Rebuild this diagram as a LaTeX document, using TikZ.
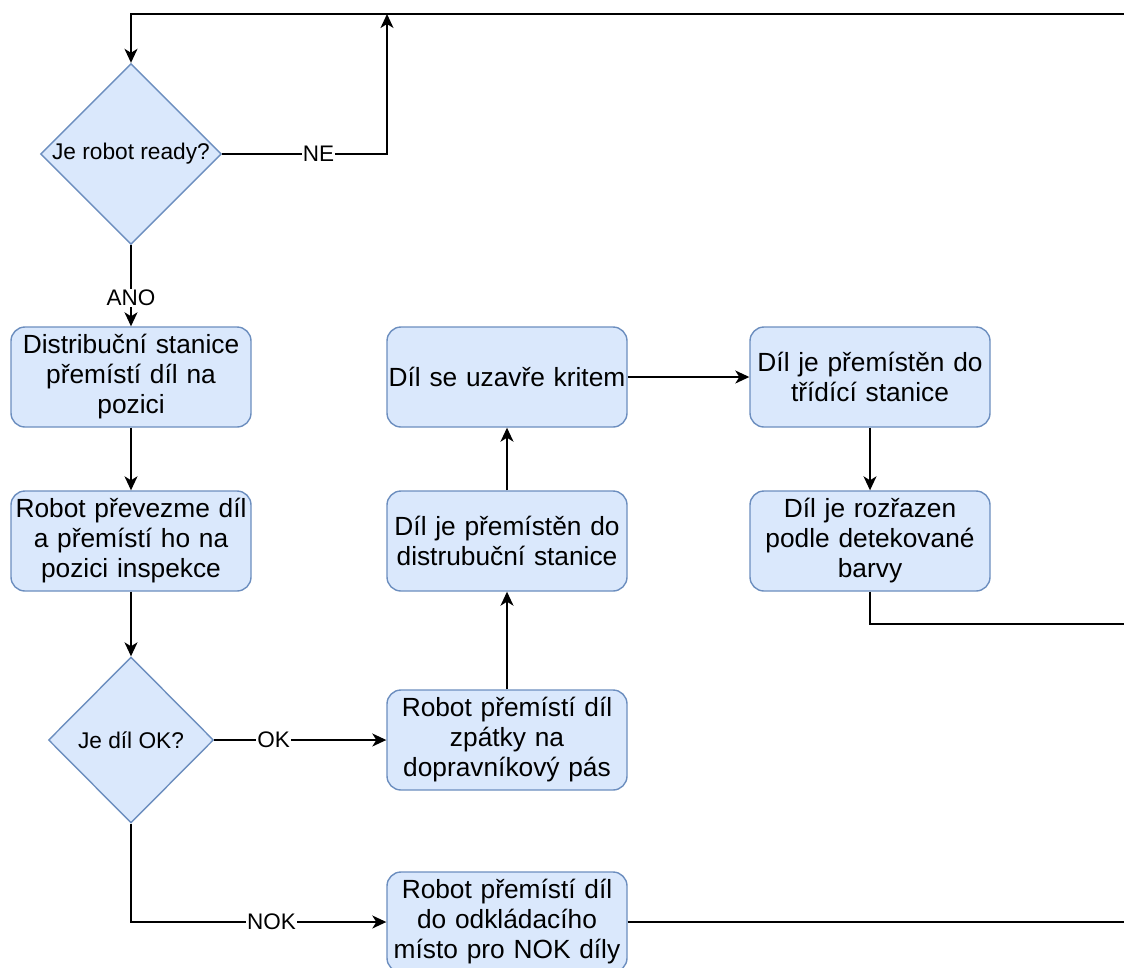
\documentclass[tikz,border=0pt]{standalone}
\usepackage{fontspec}
\setmainfont{Liberation Sans}
\usetikzlibrary{shapes.geometric,arrows.meta}
\definecolor{boxfill}{HTML}{DAE8FC}
\definecolor{boxdraw}{HTML}{6C8EBF}
\tikzset{
  procbox/.style={rectangle, rounded corners=14pt, draw=boxdraw, fill=boxfill, line width=1.4pt,
    minimum width=240pt, minimum height=100pt, text width=238pt, align=center, inner sep=0pt,
    font=\fontsize{26.3}{30}\selectfont},
  decision/.style={diamond, draw=boxdraw, fill=boxfill, line width=1.4pt, aspect=1, inner sep=0pt,
    font=\fontsize{22.7}{27}\selectfont},
  conn/.style={line width=1.6pt, black},
  arr/.style={conn, -{Stealth[length=14pt,width=13pt,inset=4pt]}},
  lbl/.style={fill=white, inner sep=1pt, font=\fontsize{22.5}{27}\selectfont}
}
\begin{document}
\begin{tikzpicture}[x=1pt,y=-1pt]
\useasboundingbox (0,0) rectangle (1124,967);
\clip (0,0) rectangle (1124,967);
\fill[white] (0,0) rectangle (1124,967);

\node[decision, minimum width=181pt, minimum height=181pt] (q1) at (131,154) {Je robot ready?};
\node[procbox] (d1) at (131,377) {Distribuční stanice\\přemístí díl na\\pozici};
\node[procbox] (r1) at (131,541) {Robot převezme díl\\a přemístí ho na\\pozici inspekce};
\node[decision, minimum width=165pt, minimum height=166pt] (q2) at (131,740) {Je díl OK?};
\node[procbox] (okb) at (507,740) {Robot přemístí díl\\zpátky na\\dopravníkový pás};
\node[procbox] (dist) at (507,541) {Díl je přemístěn do\\distrubuční stanice};
\node[procbox] (krit) at (507,377) {Díl se uzavře kritem};
\node[procbox] (trid) at (870,377) {Díl je přemístěn do\\třídící stanice};
\node[procbox] (rozr) at (870,541) {Díl je rozřazen\\podle detekované\\barvy};
\node[procbox] (nok) at (507,922) {Robot přemístí díl\\do odkládacího\\místo pro NOK díly};

\coordinate (topR) at (1124,14);
\coordinate (neTop) at (387,14);
\coordinate (midR) at (1124,624);
\coordinate (botR) at (1124,922);

\draw[arr] (topR) -| (q1.north);
\draw[arr] (q1.east) -| node[lbl, pos=0.292] {NE} (neTop);
\draw[arr] (q1.south) -- node[lbl, pos=0.65] {ANO} (d1.north);
\draw[arr] (d1.south) -- (r1.north);
\draw[arr] (r1.south) -- (q2.north);
\draw[arr] (q2.east) -- node[lbl, pos=0.345] {OK} (okb.west);
\draw[arr] (q2.south) |- node[lbl, pos=0.775] {NOK} (nok.west);
\draw[arr] (okb.north) -- (dist.south);
\draw[arr] (dist.north) -- (krit.south);
\draw[arr] (krit.east) -- (trid.west);
\draw[arr] (trid.south) -- (rozr.north);
\draw[conn] (rozr.south) |- (midR);
\draw[conn] (nok.east) -- (botR);
\end{tikzpicture}
\end{document}
